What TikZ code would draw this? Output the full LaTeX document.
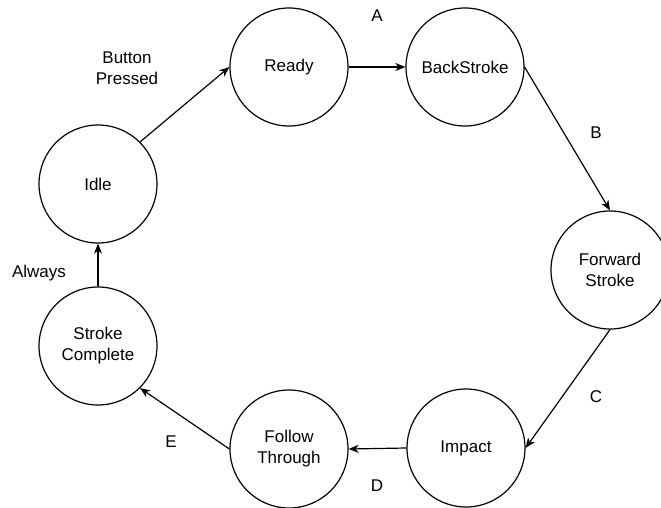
\documentclass[tikz,border=0pt]{standalone}
\usepackage{fontspec}
\setmainfont{Liberation Sans}
\usetikzlibrary{arrows.meta}
\begin{document}
\begin{tikzpicture}[x=1pt,y=-1pt,
  state/.style={circle,draw,line width=1.2pt,minimum size=118pt,inner sep=0pt,align=center,font=\fontsize{17}{21}\selectfont},
  lbl/.style={inner sep=0pt,align=center,font=\fontsize{17}{21}\selectfont},
  tr/.style={line width=1.2pt,-{Stealth[length=10pt,width=8pt,inset=3pt]}}]
\useasboundingbox (0,0) rectangle (661,508);
\node[state] (idle) at (98,184) {Idle};
\node[state] (ready) at (289,67) {Ready};
\node[state] (back) at (465,67) {BackStroke};
\node[state] (fwd) at (610,270) {Forward\\Stroke};
\node[state] (impact) at (466,448) {Impact};
\node[state] (follow) at (289,449) {Follow\\Through};
\node[state] (stroke) at (98,346) {Stroke\\Complete};
\draw[tr] (idle.45) -- (ready.west);
\draw[tr] (ready.east) -- (back.west);
\draw[tr] (back.east) -- (fwd.north);
\draw[tr] (fwd.south) -- (impact.east);
\draw[tr] (impact.west) -- (follow.east);
\draw[tr] (follow.west) -- (stroke.-45);
\draw[tr] (stroke.north) -- (idle.south);
\node[lbl] (la) at (377,16) {A};
\node[lbl] (lb) at (596,133) {B};
\node[lbl] (lc) at (596,397) {C};
\node[lbl] (ld) at (377,486) {D};
\node[lbl] (le) at (171,442) {E};
\node[lbl] (lalw) at (39,273) {Always};
\node[lbl] (lbtn) at (127,68) {Button\\Pressed};
\end{tikzpicture}
\end{document}
